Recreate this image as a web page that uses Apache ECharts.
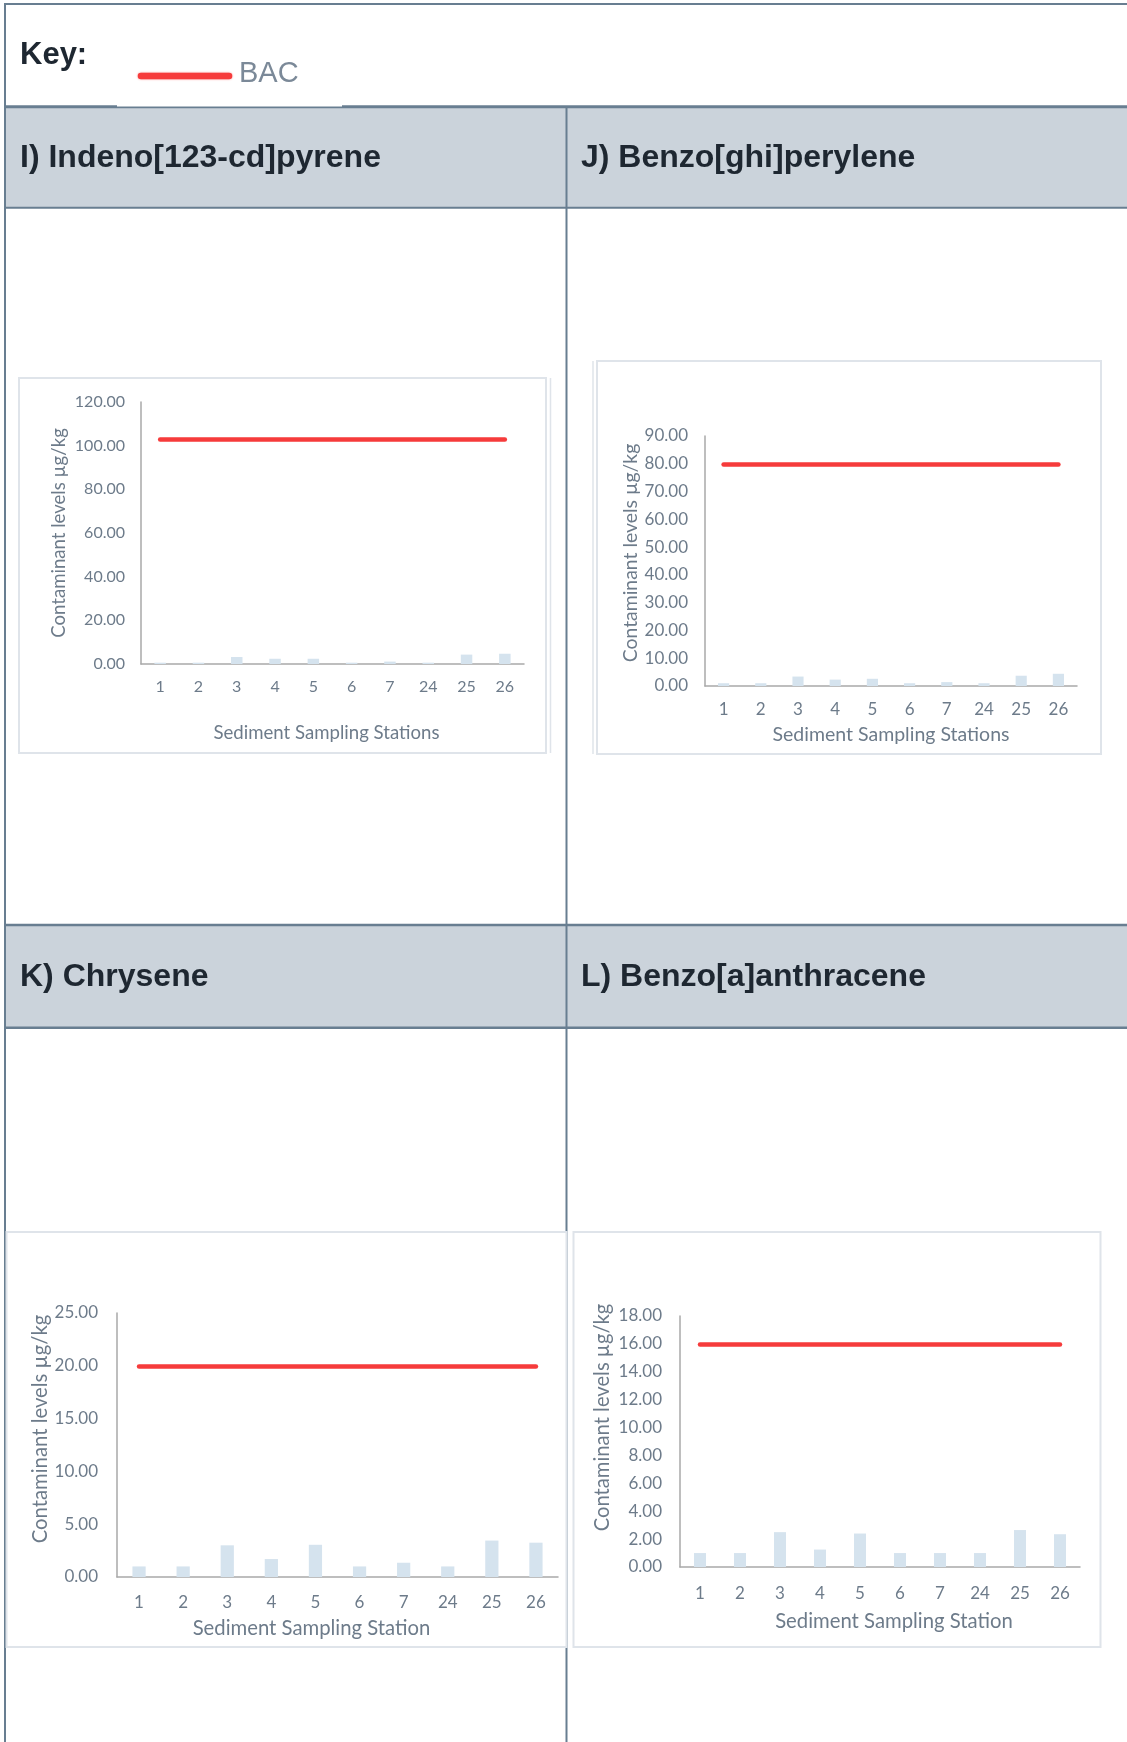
<!DOCTYPE html>
<html>
<head>
<meta charset="utf-8">
<title>PAH contaminant levels against BAC</title>
<script src="https://cdn.jsdelivr.net/npm/echarts/dist/echarts.min.js"></script>
<style>
  html, body { margin: 0; padding: 0; background: #ffffff; }
  #chart { width: 1127px; height: 1742px; }
</style>
</head>
<body>
<div id="chart"></div>
<script>
// Sediment sampling stations (x-axis categories)
const stations = ['1', '2', '3', '4', '5', '6', '7', '24', '25', '26'];

// Measured contaminant levels (µg/kg) per station
const indenoPyrene    = [0.6, 0.6, 3.2, 2.4, 2.4, 0.6, 1.1, 0.6, 4.3, 4.7];
const benzoGhiPerylene = [1.0, 1.0, 3.4, 2.3, 2.6, 1.0, 1.4, 1.0, 3.7, 4.4];
const chrysene        = [1.0, 1.0, 3.0, 1.7, 3.05, 1.0, 1.35, 1.0, 3.45, 3.25];
const benzoAAnthracene = [1.0, 1.0, 2.5, 1.25, 2.4, 1.0, 1.0, 1.0, 2.65, 2.35];

// Background assessment concentrations (µg/kg)
const bacIndenoPyrene = 103;
const bacBenzoGhiPerylene = 80;
const bacChrysene = 20;
const bacBenzoAAnthracene = 16;

// Y-axis ranges and tick steps
const yMaxI = 120, yStepI = 20;
const yMaxJ = 90,  yStepJ = 10;
const yMaxK = 25,  yStepK = 5;
const yMaxL = 18,  yStepL = 2;

// Text
const keyText = 'Key:';
const legendText = 'BAC';
const titles = ['I) Indeno[123-cd]pyrene', 'J) Benzo[ghi]perylene', 'K) Chrysene', 'L) Benzo[a]anthracene'];
const yAxisTitle = 'Contaminant levels µg/kg';
const xAxisTitles = ['Sediment Sampling Stations', 'Sediment Sampling Stations', 'Sediment Sampling Station', 'Sediment Sampling Station'];

// ---- styling / layout ----
const BORDER = '#687e91';
const HEADER_FILL = '#cbd3db';
const TITLE_COLOR = '#1e2731';
const AXIS_TEXT = '#6d7b8a';
const AXIS_LINE = '#a9a9a9';
const BAR_COLOR = '#d5e3ee';
const BAC_RED = '#f63b3b';
const BOX_STROKE = '#dfe4ea';
const W = 1127, H = 1742;

const panels = [
  { values: indenoPyrene, bac: bacIndenoPyrene, max: yMaxI, step: yStepI, xTitle: xAxisTitles[0],
    grid: { left: 141, top: 402, width: 383, height: 262 },
    tickSize: 16, yLabelMargin: 16, xLabelMargin: 15,
    yNameSize: 18.6, yNameGap: 73, yNameShift: 0,
    xNameSize: 18.6, xNameGap: 59, xNameShift: -6 },
  { values: benzoGhiPerylene, bac: bacBenzoGhiPerylene, max: yMaxJ, step: yStepJ, xTitle: xAxisTitles[1],
    grid: { left: 705, top: 436, width: 372, height: 250 },
    tickSize: 17, yLabelMargin: 17, xLabelMargin: 15,
    yNameSize: 19.4, yNameGap: 65, yNameShift: 8,
    xNameSize: 19.5, xNameGap: 39, xNameShift: 0 },
  { values: chrysene, bac: bacChrysene, max: yMaxK, step: yStepK, xTitle: xAxisTitles[2],
    grid: { left: 117, top: 1313, width: 441, height: 264 },
    tickSize: 17, yLabelMargin: 19, xLabelMargin: 17,
    yNameSize: 20.3, yNameGap: 65, yNameShift: 16,
    xNameSize: 20.3, xNameGap: 41, xNameShift: -26 },
  { values: benzoAAnthracene, bac: bacBenzoAAnthracene, max: yMaxL, step: yStepL, xTitle: xAxisTitles[3],
    grid: { left: 680, top: 1316, width: 400, height: 251 },
    tickSize: 17, yLabelMargin: 18, xLabelMargin: 18,
    yNameSize: 20.2, yNameGap: 68, yNameShift: 24,
    xNameSize: 20.3, xNameGap: 44, xNameShift: 14 }
];

// padding that slides a centred axis name along its axis
function shiftPadding(shift) {
  return shift >= 0 ? [0, 0, 0, 2 * shift] : [0, -2 * shift, 0, 0];
}

// ---- table frame drawn behind the charts ----
function hLine(x1, x2, y, w) {
  return { type: 'line', z: 1, shape: { x1, y1: y, x2, y2: y }, style: { stroke: BORDER, lineWidth: w } };
}
function vLine(x, y1, y2, w, color) {
  return { type: 'line', z: 1, shape: { x1: x, y1, x2: x, y2 }, style: { stroke: color || BORDER, lineWidth: w } };
}
function rect(x, y, w, h, fill, z) {
  return { type: 'rect', z: z || 0, shape: { x, y, width: w, height: h }, style: { fill } };
}
function box(x, y, w, h) {
  return { type: 'rect', z: 2, shape: { x, y, width: w, height: h }, style: { fill: '#ffffff', stroke: BOX_STROKE, lineWidth: 2 } };
}
function headerText(text, x, y) {
  return { type: 'text', z: 3, x, y,
    style: { text, fill: TITLE_COLOR, font: 'bold 32px "Liberation Sans", Arial, sans-serif',
             textAlign: 'left', textVerticalAlign: 'middle' } };
}

const graphics = [
  // header bands
  rect(4, 107, W - 4, 100, HEADER_FILL),
  rect(4, 925, W - 4, 102, HEADER_FILL),
  // frame lines
  hLine(4, W, 4, 2),
  vLine(5, 3, H, 2),
  hLine(4, W, 106.8, 3),
  hLine(4, W, 207.8, 2),
  hLine(4, W, 925, 2.5),
  hLine(4, W, 1027.7, 2.5),
  vLine(566.5, 106, H, 2),
  // legend image sits over the key row's lower rule
  rect(117, 104, 225, 2.6, '#ffffff', 2),
  // key row
  { type: 'text', z: 3, x: 20, y: 55,
    style: { text: keyText, fill: TITLE_COLOR, font: 'bold 31px "Liberation Sans", Arial, sans-serif',
             textAlign: 'left', textVerticalAlign: 'middle' } },
  { type: 'line', z: 3, shape: { x1: 141, y1: 76, x2: 229, y2: 76 },
    style: { stroke: BAC_RED, lineWidth: 6.5, lineCap: 'round', shadowBlur: 2, shadowColor: 'rgba(246,59,59,0.6)' } },
  { type: 'text', z: 3, x: 239, y: 74,
    style: { text: legendText, fill: '#7b8998', font: '29px "Liberation Sans", Arial, sans-serif',
             textAlign: 'left', textVerticalAlign: 'middle', shadowBlur: 2, shadowColor: 'rgba(123,137,152,0.6)' } },
  // panel titles
  headerText(titles[0], 20, 158.5),
  headerText(titles[1], 581, 158.5),
  headerText(titles[2], 20, 977.5),
  headerText(titles[3], 581, 977.5),
  // chart frames
  box(19, 378, 527, 375),
  vLine(550.5, 378, 753, 1.5, BOX_STROKE),
  box(597, 361, 504, 393),
  vLine(593, 361, 754, 1.5, BOX_STROKE),
  box(6.5, 1232, 560, 415),
  box(573.5, 1232, 527, 415)
];

const grids = [], xAxes = [], yAxes = [], series = [];
panels.forEach((p, i) => {
  grids.push(Object.assign({ containLabel: false }, p.grid));
  xAxes.push({
    type: 'category', gridIndex: i, data: stations, z: 5,
    axisLine: { show: true, lineStyle: { color: AXIS_LINE, width: 1.5 } },
    axisTick: { show: false },
    axisLabel: { color: AXIS_TEXT, fontFamily: 'Lato', fontSize: p.tickSize, margin: p.xLabelMargin, interval: 0 },
    name: p.xTitle, nameLocation: 'middle', nameGap: p.xNameGap,
    nameTextStyle: { color: AXIS_TEXT, fontFamily: 'Lato', fontSize: p.xNameSize, padding: shiftPadding(p.xNameShift) }
  });
  yAxes.push({
    type: 'value', gridIndex: i, min: 0, max: p.max, interval: p.step, z: 5,
    axisLine: { show: true, lineStyle: { color: AXIS_LINE, width: 1.5 } },
    axisTick: { show: false },
    splitLine: { show: false },
    axisLabel: { color: AXIS_TEXT, fontFamily: 'Lato', fontSize: p.tickSize, margin: p.yLabelMargin,
                 formatter: v => v.toFixed(2) },
    name: yAxisTitle, nameLocation: 'middle', nameGap: p.yNameGap,
    nameTextStyle: { color: AXIS_TEXT, fontFamily: 'Lato', fontSize: p.yNameSize, padding: shiftPadding(p.yNameShift) }
  });
  series.push({
    type: 'bar', xAxisIndex: i, yAxisIndex: i, data: p.values, z: 6,
    barWidth: '30%', itemStyle: { color: BAR_COLOR }, silent: true,
    markLine: {
      silent: true, symbol: 'none', label: { show: false },
      lineStyle: { color: BAC_RED, width: 4.5, type: 'solid', cap: 'round' },
      data: [[{ xAxis: stations[0], yAxis: p.bac }, { xAxis: stations[stations.length - 1], yAxis: p.bac }]]
    }
  });
});

const chart = echarts.init(document.getElementById('chart'), null, { renderer: 'canvas', width: W, height: H });
chart.setOption({
  animation: false,
  backgroundColor: '#ffffff',
  graphic: { elements: graphics },
  grid: grids,
  xAxis: xAxes,
  yAxis: yAxes,
  series
});
</script>
</body>
</html>
